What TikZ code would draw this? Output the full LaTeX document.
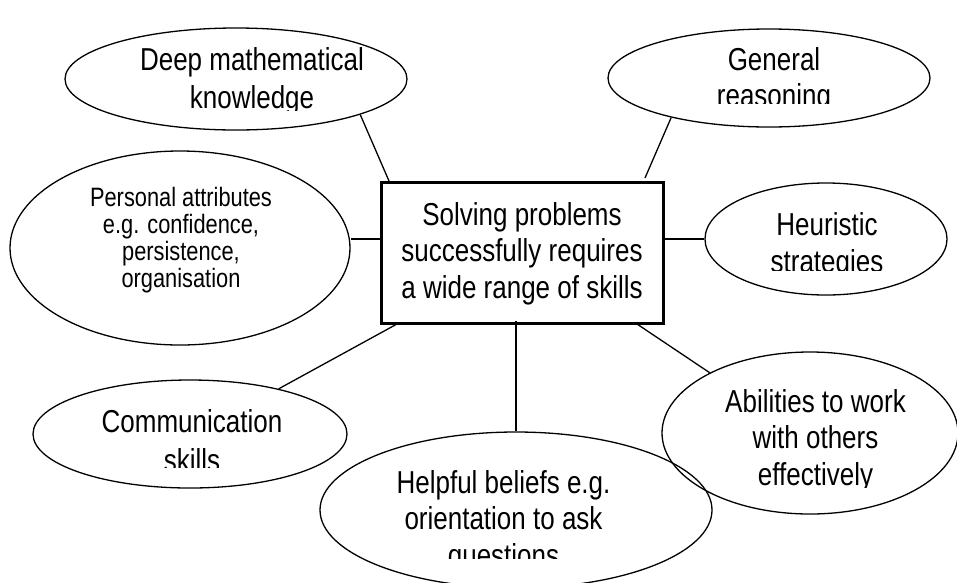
\documentclass[tikz,border=0pt]{standalone}
\usepackage{fontspec}
\setmainfont{Liberation Sans}[FakeStretch=0.82]
\usetikzlibrary{shapes.geometric}
\newcommand\bigtxt{\fontsize{31.7}{36.5}\selectfont}
\newcommand\smalltxt{\fontsize{26.6}{26.7}\selectfont}
\newcommand\lines[1]{\begin{tabular}[t]{@{}c@{}}#1\end{tabular}}
\begin{document}
\begin{tikzpicture}[x=1pt,y=-1pt,
  bubble/.style={ellipse,draw,line width=1.3pt,inner sep=0pt},
  hub/.style={rectangle,draw,line width=3pt,inner sep=0pt},
  link/.style={line width=1.3pt},
  lbl/.style={anchor=base,inner sep=0pt,font=\bigtxt},
  slbl/.style={anchor=base,inner sep=0pt,font=\smalltxt},
]
\useasboundingbox (0,0) rectangle (957,582);
% nodes
\node[hub,minimum width=282pt,minimum height=141pt] (box) at (522,252.5) {};
\node[bubble,minimum width=342pt,minimum height=102pt] (dmk) at (236,79) {};
\node[bubble,minimum width=322pt,minimum height=98pt] (gr) at (769,78) {};
\node[bubble,minimum width=340pt,minimum height=194pt] (pers) at (180,248) {};
\node[bubble,minimum width=242pt,minimum height=112pt] (heur) at (826,239) {};
\node[bubble,minimum width=296pt,minimum height=162pt] (abil) at (810,433) {};
\node[bubble,minimum width=392pt,minimum height=156pt] (help) at (516,510) {};
\node[bubble,minimum width=314pt,minimum height=108pt] (comm) at (190,434) {};
% connector end points on the box side
\coordinate (bdmk) at (389,181);
\coordinate (bgr) at (645,178);
\coordinate (bpers) at (381,239);
\coordinate (bheur) at (663,239);
\coordinate (babil) at (637,324);
\coordinate (bhelp) at (516,321);
\coordinate (bcomm) at (397,324);
% connectors
\draw[link] (bdmk) -- (dmk.-16);
\draw[link] (bgr) -- (gr.-158);
\draw[link] (bpers) -- (pers.east|-bpers);
\draw[link] (bheur) -- (heur.west);
\draw[link] (babil) -- (abil.149);
\draw[link] (bhelp) -- (help.north);
\draw[link] (bcomm) -- (comm.27.5);
% texts
\node[lbl] (tbox) at (522,225) {\lines{Solving problems\\successfully requires\\a wide range of skills}};
\node[slbl] (tpers) at (181,206) {\lines{Personal attributes\\e.g. confidence,\\persistence,\\organisation}};
\begin{scope}
\clip (100,0) rectangle (400,110);
\node[lbl] (tdmk) at (252,70) {\lines{Deep mathematical\\[2pt]knowledge}};
\end{scope}
\begin{scope}
\clip (650,0) rectangle (900,103);
\node[lbl] (tgr) at (774,70) {\lines{General\\reasoning}};
\end{scope}
\begin{scope}
\clip (720,150) rectangle (940,270);
\node[lbl] (theur) at (827,235) {\lines{Heuristic\\[1pt]strategies}};
\end{scope}
\begin{scope}
\clip (680,350) rectangle (950,487);
\node[lbl] (tabil) at (815.5,412) {\lines{Abilities to work\\with others\\effectively}};
\end{scope}
\begin{scope}
\clip (340,440) rectangle (700,558);
\node[lbl] (thelp) at (503.5,493) {\lines{Helpful beliefs e.g.\\orientation to ask\\questions}};
\end{scope}
\begin{scope}
\clip (40,390) rectangle (340,467);
\node[lbl] (tcomm) at (192,432) {\lines{Communication\\[3pt]skills}};
\end{scope}
\end{tikzpicture}
\end{document}
